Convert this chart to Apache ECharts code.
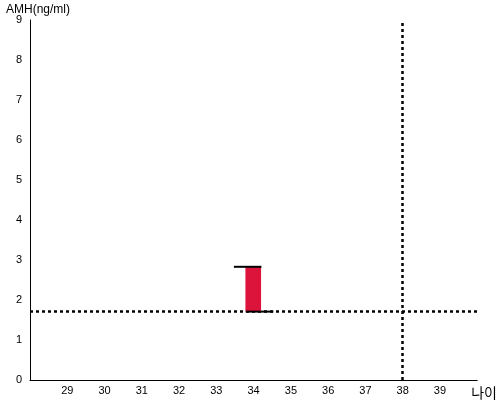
<!DOCTYPE html>
<html>
<head>
<meta charset="utf-8">
<script src="https://cdn.jsdelivr.net/npm/echarts@6/dist/echarts.min.js"></script>
<style>
  html, body { margin: 0; padding: 0; background: #fff; }
  #main { width: 500px; height: 400px; }
</style>
</head>
<body>
<div id="main"></div>
<script>
// 나이 / AMH 범위
var boxAge = [33.78, 34.2];      // 빨간 막대 좌우
var boxAmh = [1.71, 2.83];       // 빨간 막대 아래/위
var topCap = [33.47, 34.21];     // 위쪽 검은 선
var bottomCap = [33.79, 34.53];  // 아래쪽 검은 선
var refAmh = 1.71;               // 가로 점선
var refAge = 38;                 // 세로 점선
var xRange = [28, 40];
var yRange = [0, 9];

var chartDom = document.getElementById('main');
var myChart = echarts.init(chartDom);

var option = {
    animation: false,
    title: {
        text: 'AMH(ng/ml)',
        left: 6,
        top: 4,
        padding: 0,
        textStyle: { fontFamily: 'Liberation Sans', fontSize: 12, fontWeight: 'normal', color: '#000' }
    },
    grid: { left: 30, right: 20, top: 20, bottom: 20 },
    xAxis: {
        type: 'value',
        min: xRange[0],
        max: xRange[1],
        interval: 1,
        name: '나이',
        nameLocation: 'end',
        nameGap: -6,
        nameTextStyle: {
            fontFamily: 'Noto Sans CJK KR', fontSize: 14, color: '#000',
            align: 'left', verticalAlign: 'top', padding: [6, 0, 0, 0]
        },
        axisLine: { lineStyle: { color: '#000', width: 1 } },
        axisTick: { show: false },
        splitLine: { show: false },
        axisLabel: {
            showMinLabel: false,
            showMaxLabel: false,
            margin: 5,
            color: '#000',
            fontFamily: 'Liberation Sans',
            fontSize: 11
        }
    },
    yAxis: {
        type: 'value',
        min: yRange[0],
        max: yRange[1],
        interval: 1,
        axisLine: { show: true, lineStyle: { color: '#000', width: 1 } },
        axisTick: { show: false },
        splitLine: { show: false },
        axisLabel: { margin: 8, color: '#000', fontFamily: 'Liberation Sans', fontSize: 11 }
    },
    series: [
        {
            type: 'custom',
            data: [[boxAge[0], boxAge[1], boxAmh[0], boxAmh[1], topCap[0], topCap[1], bottomCap[0], bottomCap[1]]],
            renderItem: function (params, api) {
                var p1 = api.coord([api.value(0), api.value(3)]);
                var p2 = api.coord([api.value(1), api.value(2)]);
                var t1 = api.coord([api.value(4), api.value(3)]);
                var t2 = api.coord([api.value(5), api.value(3)]);
                var b1 = api.coord([api.value(6), api.value(2)]);
                var b2 = api.coord([api.value(7), api.value(2)]);
                return {
                    type: 'group',
                    children: [
                        { type: 'rect', shape: { x: p1[0], y: p1[1], width: p2[0] - p1[0], height: p2[1] - p1[1] },
                          style: { fill: '#DC143C' } },
                        { type: 'line', shape: { x1: t1[0], y1: t1[1], x2: t2[0], y2: t2[1] },
                          style: { stroke: '#000', lineWidth: 2 } },
                        { type: 'line', shape: { x1: b1[0], y1: b1[1], x2: b2[0], y2: b2[1] },
                          style: { stroke: '#000', lineWidth: 2 } }
                    ]
                };
            },
            markLine: {
                silent: true,
                symbol: 'none',
                label: { show: false },
                lineStyle: { color: '#000', width: 2.5, type: [3, 3] },
                data: [{ yAxis: refAmh }, { xAxis: refAge }]
            },
            z: 5
        }
    ]
};
myChart.setOption(option);
</script>
</body>
</html>
